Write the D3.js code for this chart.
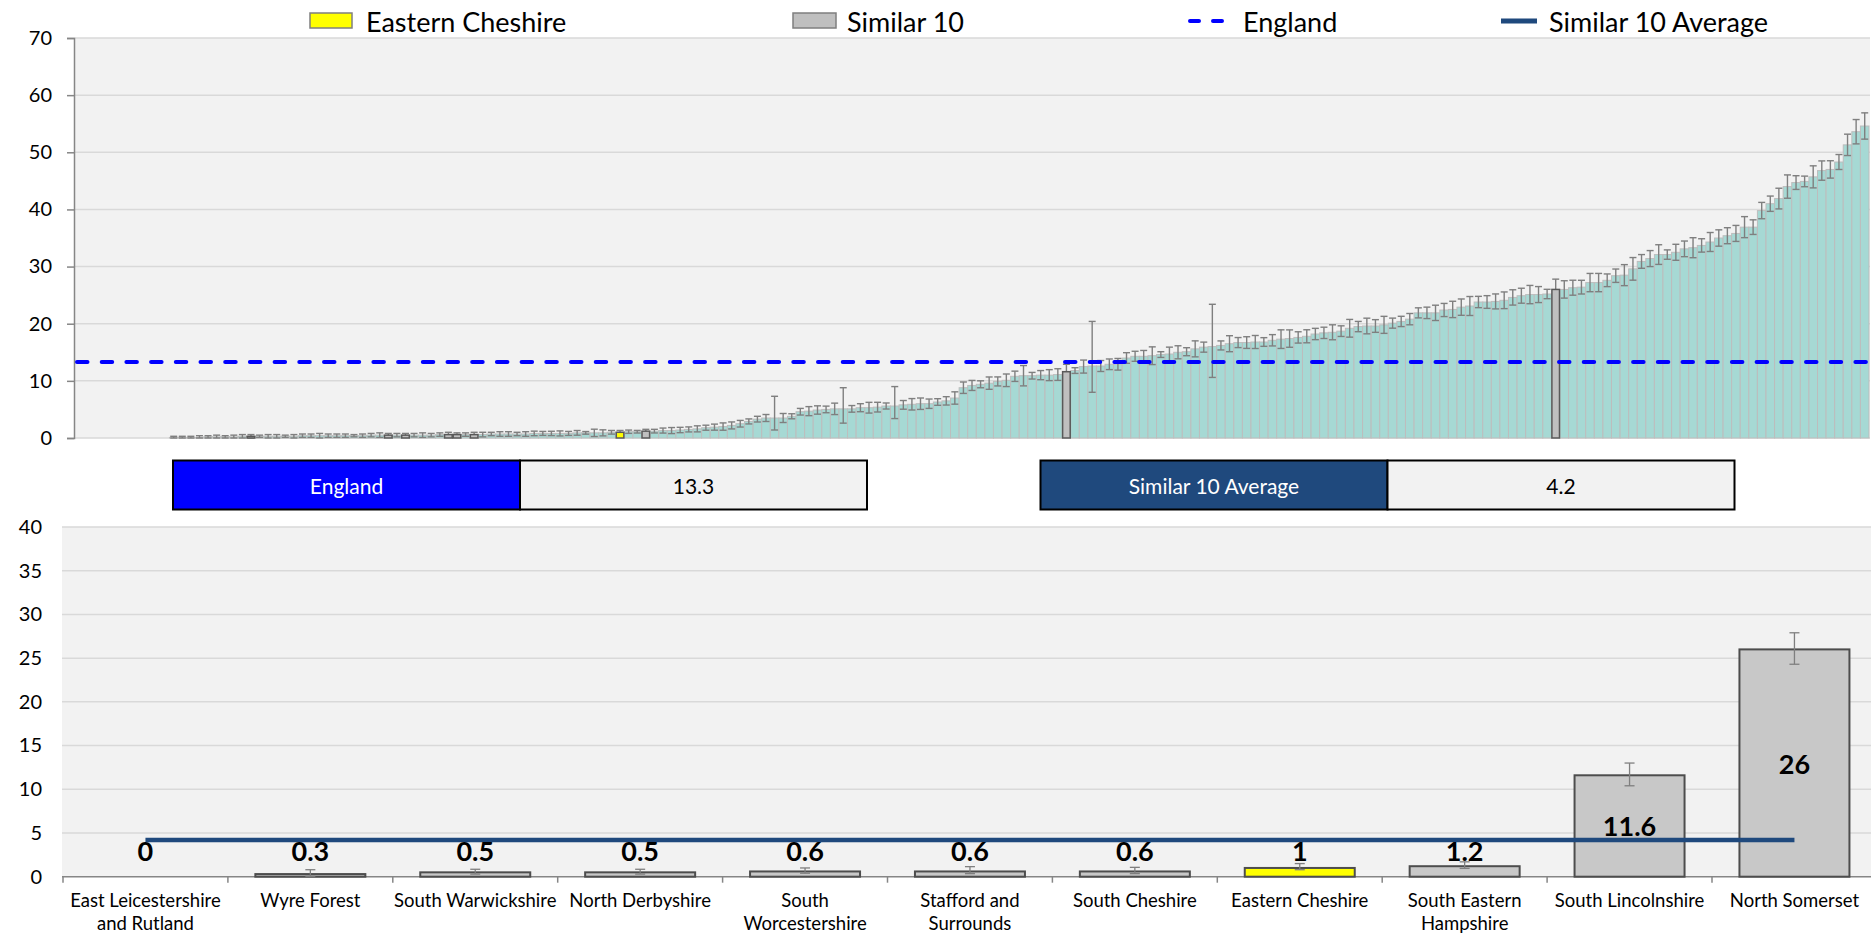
<!DOCTYPE html>
<html><head><meta charset="utf-8">
<script src="https://cdn.jsdelivr.net/npm/d3@7"></script>
<style>
body{margin:0;background:#fff;}
svg{display:block;font-family:Lato,"Open Sans",sans-serif;}
</style>
</head><body>
<svg id="chart" width="1873" height="936"></svg>
<script>
// ---------- DATA ----------
// Top chart: all areas ranked (value per rank position), null = no value
const rankValues = [
 null,null,null,null,null,null,null,null,null,null,null,
 0.1,0.1,0.1,0.1,0.2,0.2,0.2,0.2,0.3,0.3,
 0.3,0.3,0.3,0.3,0.3,0.4,0.4,0.4,0.4,0.4,
 0.4,0.4,0.4,0.5,0.5,0.5,0.5,0.5,0.5,0.5,
 0.5,0.6,0.6,0.6,0.6,0.6,0.6,0.7,0.7,0.7,
 0.7,0.7,0.8,0.8,0.8,0.8,0.8,0.9,0.9,0.9,
 0.9,1.0,1.0,1.1,1.1,1.2,1.2,1.3,1.3,1.4,
 1.5,1.6,1.8,1.9,2.0,2.2,2.5,2.9,3.3,3.5,
 3.5,3.5,3.8,4.6,4.7,4.9,5.0,5.1,5.1,5.1,
 5.3,5.3,5.4,5.6,5.6,5.8,5.9,6.0,6.0,6.3,
 6.5,7.0,8.8,9.2,9.4,9.6,9.9,10.1,10.8,10.9,
 10.9,11.0,11.0,11.1,11.6,11.8,12.5,12.6,12.6,12.9,
 12.9,14.0,14.3,14.3,14.4,14.6,14.7,15.0,15.1,15.6,
 15.9,16.0,16.2,16.5,16.7,16.7,16.8,16.8,17.1,17.3,
 17.4,17.6,17.8,18.2,18.4,18.5,18.7,19.2,19.5,19.6,
 19.6,19.8,20.1,20.4,20.8,21.9,21.9,21.9,22.4,22.5,
 22.9,23.1,23.8,23.8,23.9,24.1,24.6,24.9,25.1,25.1,
 25.2,26.0,26.0,26.3,26.4,27.2,27.2,27.6,28.4,28.5,
 29.6,30.9,31.4,32.1,32.1,32.5,33.1,33.3,33.7,34.3,
 35.0,35.4,35.8,36.9,36.9,39.8,41.0,41.9,44.0,44.7,
 44.9,45.7,46.8,47.0,48.3,51.3,53.6,54.6
];
const errPlus = [
 0,0,0,0,0,0,0,0,0,0,0,
 0.2,0.2,0.2,0.3,0.2,0.3,0.2,0.3,0.3,0.3,
 0.2,0.3,0.3,0.2,0.3,0.3,0.3,0.4,0.3,0.3,
 0.3,0.2,0.3,0.3,0.4,0.3,0.3,0.3,0.3,0.4,
 0.3,0.3,0.4,0.3,0.3,0.4,0.4,0.3,0.4,0.4,
 0.3,0.4,0.4,0.35,0.38,0.44,0.35,0.41,0.23,0.64,
 0.53,0.32,0.32,0.29,0.23,0.32,0.32,0.44,0.53,0.47,
 0.44,0.53,0.44,0.53,0.64,0.61,0.58,0.44,0.5,0.61,
 3.8,0.79,0.44,0.58,0.79,0.73,0.58,1.0,3.7,0.58,
 0.7,0.94,0.85,0.53,3.4,0.76,1.0,1.0,0.82,0.58,
 0.73,1.08,1.0,0.88,0.61,1.08,0.79,1.1,0.9,1.78,
 0.58,0.8,0.96,1.02,1.3,0.5,1.14,7.8,0.96,0.93,
 1.02,0.93,0.88,1.02,1.55,0.5,1.2,1.14,0.7,1.4,
 0.88,7.4,0.79,1.4,0.88,1.02,1.14,0.76,0.99,1.63,
 1.52,0.99,1.14,0.99,0.99,1.31,0.93,1.55,0.9,1.37,
 1.11,1.49,0.88,0.9,0.99,0.88,1.0,1.34,1.15,1.43,
 1.43,1.66,0.99,1.11,1.31,1.46,1.34,1.31,1.6,1.4,
 0.82,1.8,1.52,1.31,1.2,1.6,1.6,1.11,1.17,1.84,
 1.98,1.2,1.4,1.72,0.82,1.4,1.37,1.75,1.17,1.66,
 1.43,1.4,1.4,1.84,1.28,1.43,1.34,1.81,2.04,1.2,
 0.93,1.93,1.69,1.52,1.31,1.87,2.13,2.3
];
const errMinus = [
 0,0,0,0,0,0,0,0,0,0,0,
 0.2,0.2,0.2,0.3,0.2,0.3,0.2,0.3,0.3,0.3,
 0.2,0.3,0.3,0.2,0.3,0.3,0.3,0.4,0.3,0.3,
 0.3,0.2,0.3,0.3,0.4,0.3,0.3,0.3,0.3,0.4,
 0.3,0.3,0.4,0.3,0.3,0.4,0.4,0.3,0.4,0.4,
 0.3,0.4,0.4,0.35,0.38,0.44,0.35,0.41,0.23,0.64,
 0.53,0.32,0.32,0.29,0.23,0.32,0.32,0.44,0.53,0.47,
 0.44,0.53,0.44,0.53,0.64,0.61,0.58,0.44,0.5,0.61,
 2.1,0.79,0.44,0.58,0.79,0.73,0.58,1.0,2.5,0.58,
 0.7,0.94,0.85,0.53,2.2,0.76,1.0,1.0,0.82,0.58,
 0.73,1.08,1.0,0.88,0.61,1.08,0.79,1.1,0.9,1.78,
 0.58,0.8,0.96,1.02,1.3,0.5,1.14,4.6,0.96,0.93,
 1.02,0.93,0.88,1.02,1.55,0.5,1.2,1.14,0.7,1.4,
 0.88,5.4,0.79,1.4,0.88,1.02,1.14,0.76,0.99,1.63,
 1.52,0.99,1.14,0.99,0.99,1.31,0.93,1.55,0.9,1.37,
 1.11,1.49,0.88,0.9,0.99,0.88,1.0,1.34,1.15,1.43,
 1.43,1.66,0.99,1.11,1.31,1.46,1.34,1.31,1.6,1.4,
 0.82,1.8,1.52,1.31,1.2,1.6,1.6,1.11,1.17,1.84,
 1.98,1.2,1.4,1.72,0.82,1.4,1.37,1.75,1.17,1.66,
 1.43,1.4,1.4,1.84,1.28,1.43,1.34,1.81,2.04,1.2,
 0.93,1.93,1.69,1.52,1.31,1.87,2.13,2.3
];
const similarRanks = [20,36,38,43,44,46,66,115,172];
const selectedRank = 63;
const topTicks = [0,10,20,30,40,50,60,70];

const englandValue = 13.3;
const similarAverage = 4.2;

// Bottom chart: similar 10 comparison
const areas = ["East Leicestershire and Rutland","Wyre Forest","South Warwickshire","North Derbyshire","South Worcestershire","Stafford and Surrounds","South Cheshire","Eastern Cheshire","South Eastern Hampshire","South Lincolnshire","North Somerset"];
const areaValues = [0,0.3,0.5,0.5,0.6,0.6,0.6,1,1.2,11.6,26];
const areaLower  = [null,0.05,0.3,0.3,0.4,0.35,0.35,0.8,0.95,10.4,24.3];
const areaUpper  = [null,0.8,0.85,0.85,1.0,1.15,1.07,1.5,1.7,13.0,27.9];
const selectedArea = "Eastern Cheshire";
const bottomTicks = [0,5,10,15,20,25,30,35,40];

const legendLabels = ["Eastern Cheshire","Similar 10","England","Similar 10 Average"];
const tableLabels = ["England","Similar 10 Average"];

// ---------- STYLE ----------
const C = {
  plotBg:"#F2F2F2", grid:"#D9D9D9", axis:"#868686",
  bar:"#A6D9D4", barStroke:"#BDBDBD",
  similar:"#BFBFBF", similarStroke:"#595959",
  selected:"#FFFF00", err:"#7F7F7F",
  england:"#0000FF", avg:"#1F497D"
};

const svg = d3.select("#chart");

// ---------- TOP CHART ----------
const T = {x0:74, x1:1870, y0:38, y1:438};
const xTop = d3.scaleBand().domain(d3.range(rankValues.length)).range([T.x0+1, T.x1-1]).padding(0);
const yTop = d3.scaleLinear().domain([0,70]).range([T.y1, T.y0]);

svg.append("rect").attr("x",T.x0).attr("y",T.y0).attr("width",T.x1-T.x0).attr("height",T.y1-T.y0).attr("fill",C.plotBg);
svg.append("g").selectAll("line").data(topTicks).join("line")
  .attr("x1",T.x0).attr("x2",T.x1).attr("y1",d=>yTop(d)).attr("y2",d=>yTop(d))
  .attr("stroke",C.grid).attr("stroke-width",1.5);

const yAxisTop = svg.append("g").attr("transform",`translate(${T.x0},0)`)
  .call(d3.axisLeft(yTop).tickValues(topTicks).tickSize(7).tickPadding(15).tickFormat(d3.format("d")));
yAxisTop.select(".domain").attr("stroke",C.axis).attr("stroke-width",1.5);
yAxisTop.selectAll(".tick line").attr("stroke",C.axis).attr("stroke-width",1.5);
yAxisTop.selectAll(".tick text").attr("font-size",20).attr("fill","#000").attr("font-family","Lato");

const topData = rankValues.map((v,i)=>({i,v,p:errPlus[i],m:errMinus[i],
  kind: i===selectedRank ? "sel" : (similarRanks.includes(i) ? "sim" : "all")}));
const valid = topData.filter(d=>d.v!==null);

function fillOf(k){return k==="sel"?C.selected:(k==="sim"?C.similar:C.bar);}
svg.append("g").selectAll("rect").data(valid.filter(d=>d.kind==="all")).join("rect")
  .attr("x",d=>xTop(d.i)).attr("width",xTop.bandwidth())
  .attr("y",d=>yTop(d.v)).attr("height",d=>yTop(0)-yTop(d.v))
  .attr("fill",C.bar).attr("stroke",C.barStroke).attr("stroke-width",1);

const eb = svg.append("g").attr("stroke",C.err).attr("stroke-width",1.4);
valid.forEach(d=>{
  const cx = xTop(d.i)+xTop.bandwidth()/2;
  const yh = yTop(d.v+d.p), yl = yTop(Math.max(0,d.v-d.m));
  eb.append("line").attr("x1",cx).attr("x2",cx).attr("y1",yh).attr("y2",yl);
  eb.append("line").attr("x1",cx-3.5).attr("x2",cx+3.5).attr("y1",yh).attr("y2",yh);
  eb.append("line").attr("x1",cx-3.5).attr("x2",cx+3.5).attr("y1",yl).attr("y2",yl);
});

svg.append("g").selectAll("rect").data(valid.filter(d=>d.kind!=="all")).join("rect")
  .attr("x",d=>xTop(d.i)+0.5).attr("width",xTop.bandwidth()-1)
  .attr("y",d=>yTop(d.v)).attr("height",d=>yTop(0)-yTop(d.v))
  .attr("fill",d=>fillOf(d.kind)).attr("stroke",C.similarStroke).attr("stroke-width",1.5);

svg.append("line").attr("x1",T.x0+3).attr("x2",T.x1-2)
  .attr("y1",yTop(englandValue)).attr("y2",yTop(englandValue))
  .attr("stroke",C.england).attr("stroke-width",4).attr("stroke-linecap","round")
  .attr("stroke-dasharray","10.5 14.2");

// ---------- LEGEND ----------
const L = svg.append("g").attr("font-size",27).attr("fill","#000");
const ly = 21;
L.append("rect").attr("x",310).attr("y",13).attr("width",42).attr("height",15).attr("fill",C.selected).attr("stroke","#7F7F7F").attr("stroke-width",1.5);
L.append("text").attr("x",366).attr("y",ly).attr("dominant-baseline","central").text(legendLabels[0]);
L.append("rect").attr("x",793).attr("y",13).attr("width",43).attr("height",15).attr("fill",C.similar).attr("stroke","#7F7F7F").attr("stroke-width",1.5);
L.append("text").attr("x",847).attr("y",ly).attr("dominant-baseline","central").text(legendLabels[1]);
L.append("line").attr("x1",1190).attr("x2",1226).attr("y1",ly).attr("y2",ly).attr("stroke",C.england).attr("stroke-width",4).attr("stroke-linecap","round").attr("stroke-dasharray","9 14");
L.append("text").attr("x",1243).attr("y",ly).attr("dominant-baseline","central").text(legendLabels[2]);
L.append("line").attr("x1",1501).attr("x2",1537).attr("y1",ly).attr("y2",ly).attr("stroke",C.avg).attr("stroke-width",5);
L.append("text").attr("x",1549).attr("y",ly).attr("dominant-baseline","central").text(legendLabels[3]);

// ---------- TABLE ----------
const tableRows = [
  {label:tableLabels[0], value:englandValue, fill:C.england, x:173},
  {label:tableLabels[1], value:similarAverage, fill:C.avg, x:1040.5}
];
const tb = svg.append("g").attr("font-size",21);
tableRows.forEach(r=>{
  const w=347, h=49, y=460.5;
  tb.append("rect").attr("x",r.x).attr("y",y).attr("width",w).attr("height",h).attr("fill",r.fill).attr("stroke","#000").attr("stroke-width",2);
  tb.append("rect").attr("x",r.x+w).attr("y",y).attr("width",w).attr("height",h).attr("fill",C.plotBg).attr("stroke","#000").attr("stroke-width",2);
  tb.append("text").attr("x",r.x+w/2).attr("y",y+h/2).attr("text-anchor","middle").attr("dominant-baseline","central").attr("fill","#fff").text(r.label);
  tb.append("text").attr("x",r.x+w*1.5).attr("y",y+h/2).attr("text-anchor","middle").attr("dominant-baseline","central").attr("fill","#000").text(d3.format(".1f")(r.value));
});

// ---------- BOTTOM CHART ----------
const B = {x0:62, x1:1871, y0:527, y1:876.7};
const step = 164.9;
const xB = d3.scaleBand().domain(areas).range([63, 63+step*areas.length]).paddingInner(0.333).paddingOuter(0.1665);
const yB = d3.scaleLinear().domain([0,40]).range([B.y1, B.y0]);

svg.append("rect").attr("x",B.x0).attr("y",B.y0).attr("width",B.x1-B.x0).attr("height",B.y1-B.y0).attr("fill",C.plotBg);
svg.append("g").selectAll("line").data(bottomTicks.slice(1)).join("line")
  .attr("x1",B.x0).attr("x2",B.x1).attr("y1",d=>yB(d)).attr("y2",d=>yB(d))
  .attr("stroke",C.grid).attr("stroke-width",1.5);

const yAxisB = svg.append("g").attr("transform",`translate(${B.x0},0)`)
  .call(d3.axisLeft(yB).tickValues(bottomTicks).tickSize(0).tickPadding(20).tickFormat(d3.format("d")));
yAxisB.select(".domain").remove();
yAxisB.selectAll(".tick text").attr("font-size",20).attr("fill","#000").attr("font-family","Lato");

// x axis line + boundary ticks
svg.append("line").attr("x1",B.x0).attr("x2",B.x1).attr("y1",B.y1).attr("y2",B.y1).attr("stroke",C.axis).attr("stroke-width",1.5);
svg.append("g").selectAll("line").data(d3.range(areas.length)).join("line")
  .attr("x1",i=>63+i*step).attr("x2",i=>63+i*step).attr("y1",B.y1).attr("y2",B.y1+6)
  .attr("stroke",C.axis).attr("stroke-width",1.5);

const bData = areas.map((a,i)=>({a,v:areaValues[i],lo:areaLower[i],hi:areaUpper[i]}));
svg.append("g").selectAll("rect").data(bData.filter(d=>d.v>0)).join("rect")
  .attr("x",d=>xB(d.a)).attr("width",xB.bandwidth())
  .attr("y",d=>yB(d.v)).attr("height",d=>yB(0)-yB(d.v))
  .attr("fill",d=>d.a===selectedArea?C.selected:"#C8C8C8")
  .attr("stroke","#4D4D4D").attr("stroke-width",2);

const ebB = svg.append("g").attr("stroke",C.err).attr("stroke-width",1.3);
bData.filter(d=>d.lo!==null).forEach(d=>{
  const cx = xB(d.a)+xB.bandwidth()/2;
  const yh=yB(d.hi), yl=yB(d.lo);
  ebB.append("line").attr("x1",cx).attr("x2",cx).attr("y1",yh).attr("y2",yl);
  ebB.append("line").attr("x1",cx-5).attr("x2",cx+5).attr("y1",yh).attr("y2",yh);
  ebB.append("line").attr("x1",cx-5).attr("x2",cx+5).attr("y1",yl).attr("y2",yl);
});

svg.append("line")
  .attr("x1",xB(areas[0])+xB.bandwidth()/2).attr("x2",xB(areas[areas.length-1])+xB.bandwidth()/2)
  .attr("y1",yB(similarAverage)).attr("y2",yB(similarAverage))
  .attr("stroke",C.avg).attr("stroke-width",4.5);

svg.append("g").selectAll("text").data(bData).join("text")
  .attr("x",d=>xB(d.a)+xB.bandwidth()/2)
  .attr("y",d=>Math.min(yB(d.v/2), yB(0)-26))
  .attr("text-anchor","middle").attr("dominant-baseline","central")
  .attr("font-size",27).attr("font-weight","bold").attr("fill","#000")
  .text(d=>d.v);

// category labels with wrapping
const wrapWidth = 171;
const catG = svg.append("g").attr("font-size",18.5).attr("fill","#000");
catG.selectAll("text").data(areas).join("text")
  .attr("x",d=>xB(d)+xB.bandwidth()/2).attr("y",900)
  .attr("text-anchor","middle").attr("dominant-baseline","central")
  .each(function(d){
    const t=d3.select(this), cx=t.attr("x");
    const words=d.split(/\s+/); const lines=[]; let line=[];
    const tmp=t.append("tspan");
    for(const w of words){
      line.push(w); tmp.text(line.join(" "));
      if(tmp.node().getComputedTextLength()>wrapWidth && line.length>1){
        line.pop(); lines.push(line.join(" ")); line=[w];
      }
    }
    lines.push(line.join(" ")); tmp.remove();
    lines.forEach((l,k)=>t.append("tspan").attr("x",cx).attr("dy",k?23:0).text(l));
  });
</script>
</body></html>
